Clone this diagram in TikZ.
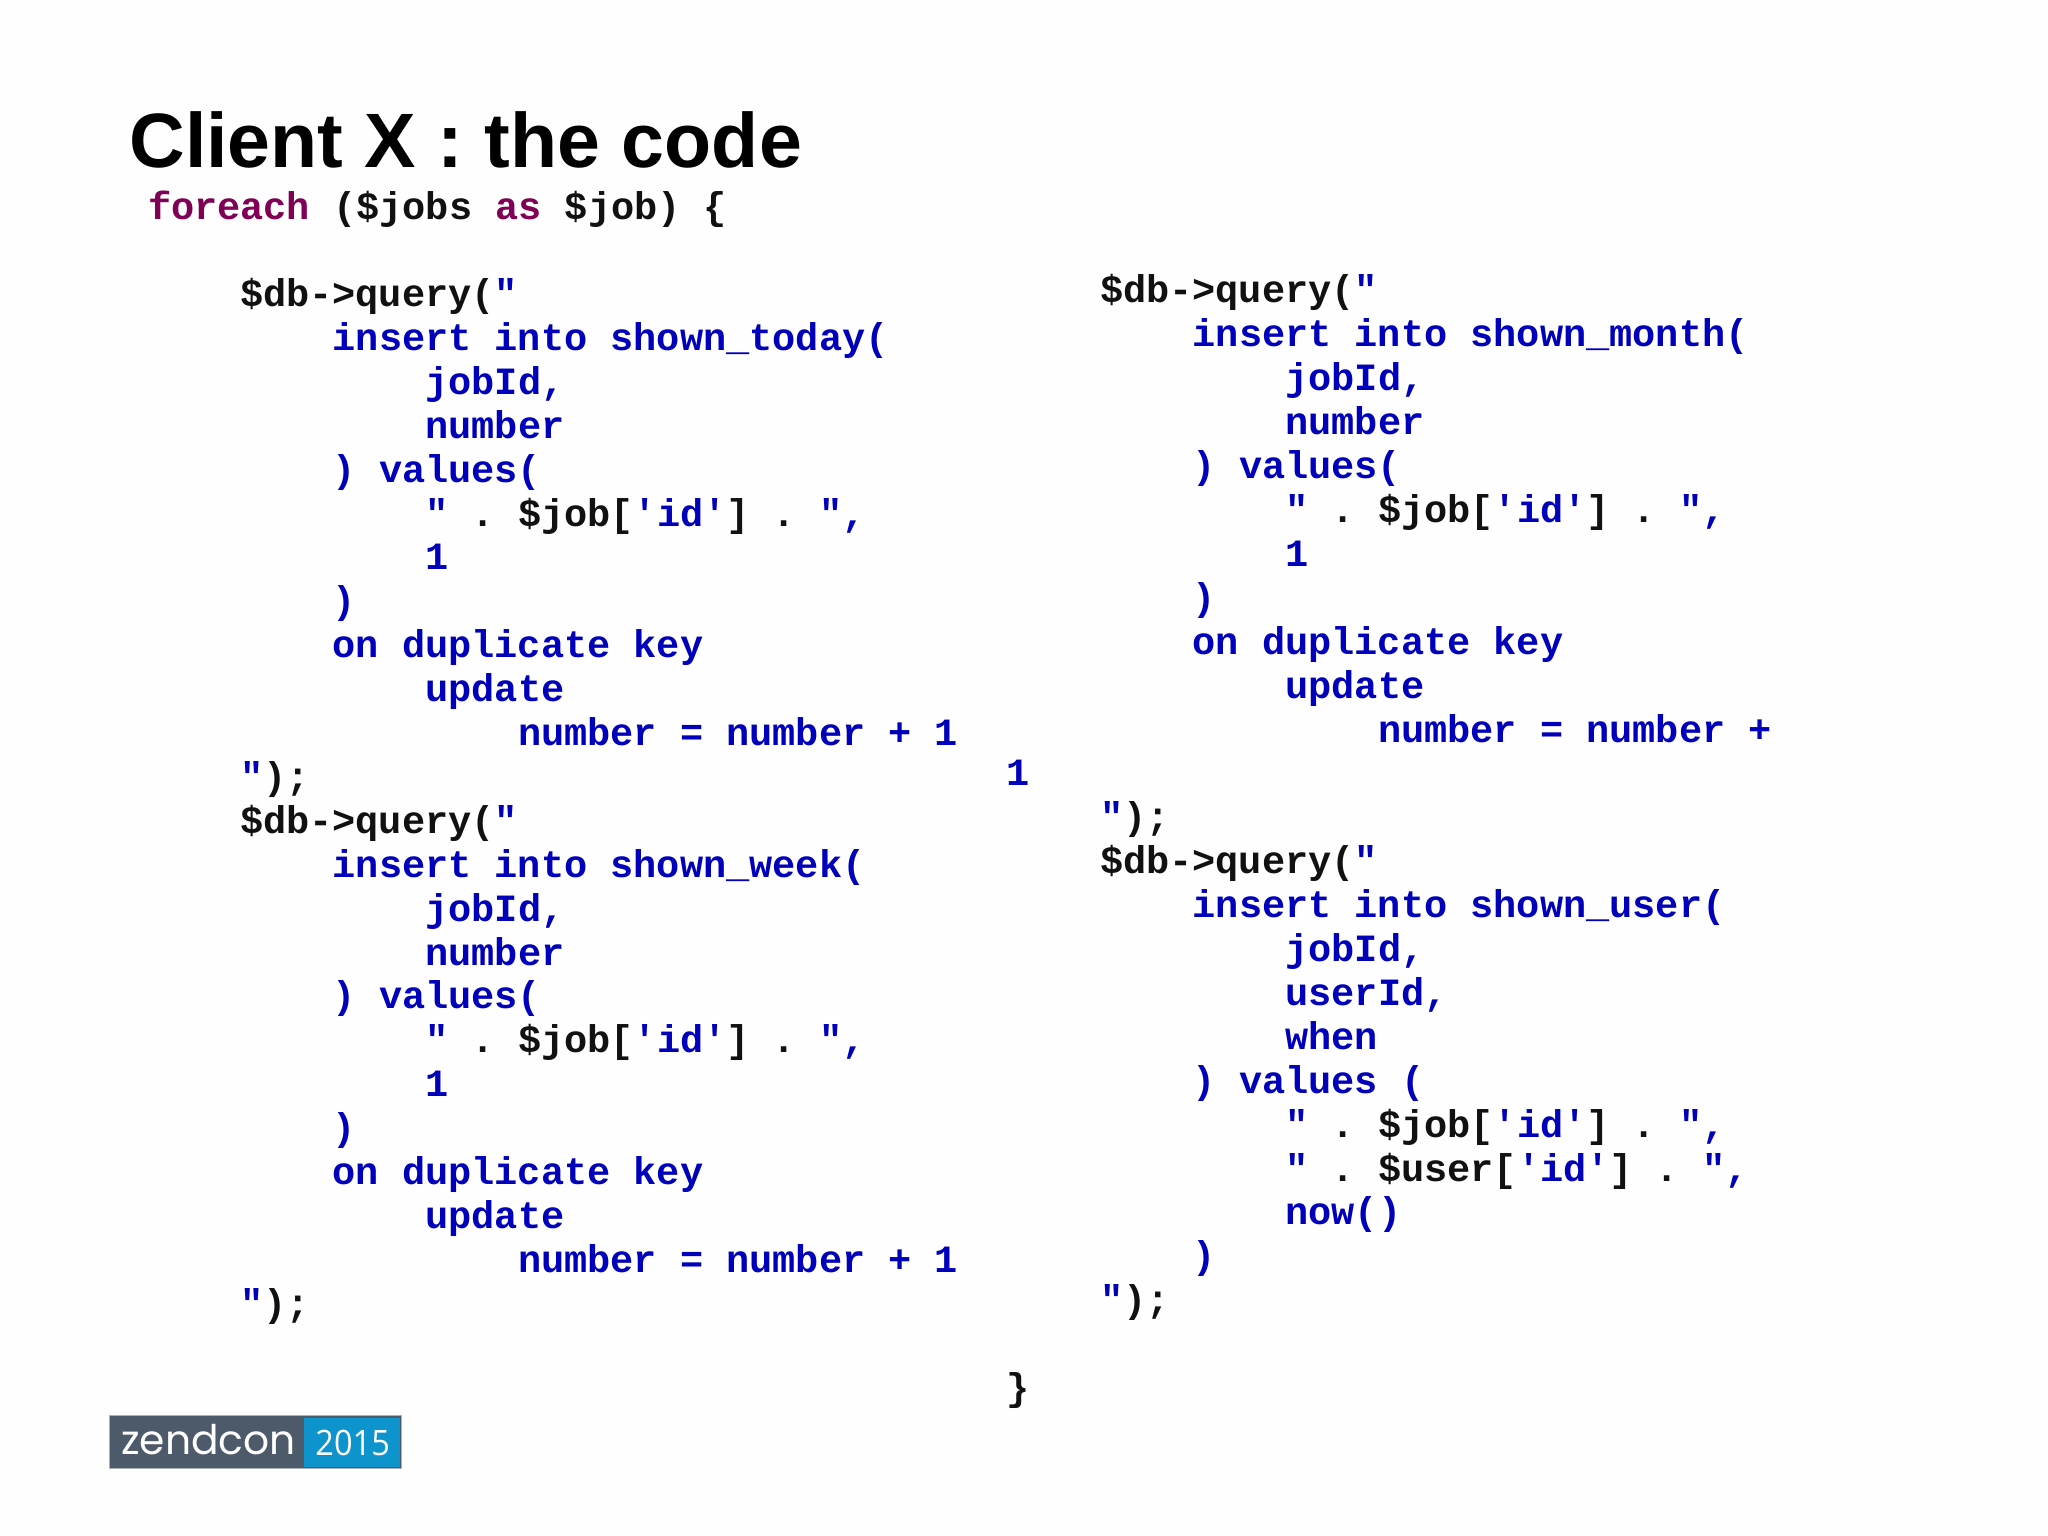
\documentclass[tikz,border=0pt]{standalone}
\usepackage{fontspec}
\setmainfont{Liberation Sans}
\newfontfamily\codefont{Liberation Mono}[BoldFont={Liberation Mono Bold}]
\newfontfamily\logofont{Poppins}
\newfontfamily\yearfont{Open Sans}
\definecolor{kwblue}{HTML}{0000BB}
\definecolor{kwpurple}{HTML}{7F0055}
\definecolor{codeblack}{HTML}{111111}
\definecolor{logodark}{HTML}{4D5A69}
\definecolor{logoblue}{HTML}{0D94CC}
\definecolor{logoedge}{HTML}{A9B0B8}
\definecolor{pagebg}{HTML}{FEFEFE}
\newcommand{\bl}[1]{\textcolor{kwblue}{#1}}
\newcommand{\pu}[1]{\textcolor{kwpurple}{#1}}
\frenchspacing
\tikzset{
  codeline/.style={anchor=base west,inner sep=0pt,outer sep=0pt,text=codeblack,font=\codefont\bfseries\fontsize{19.3}{19.3}\selectfont\frenchspacing},
  titletext/.style={anchor=base west,inner sep=0pt,font=\bfseries\fontsize{38.55}{38.55}\selectfont,text=black},
}
\begin{document}
\begin{tikzpicture}[x=0.5pt,y=-0.5pt]
\useasboundingbox (0,0) rectangle (2048,1535);
\fill[pagebg] (0,0) rectangle (2048,1535);
\node[titletext] (title) at (129,167.5) {Client X : the code};
\node[codeline] (fe) at (148,219.5) {\pu{foreach} (\$jobs \pu{as} \$job) \{};
\def\Lx{240}\def\Ly{306.5}\def\Rx{1100}\def\Ry{303}
\def\cw{23.17}
\newcommand{\codeat}[5]{\node[codeline] (#1) at ({#2+#3*\cw},{#4}) {#5};}
\newcommand{\lcol}[4]{\codeat{#1}{\Lx}{#2}{\Ly+43.9*#3}{#4}}
\newcommand{\rcol}[4]{\codeat{#1}{\Rx}{#2}{\Ry+43.9*#3}{#4}}
\lcol{la}{0}{0}{\$db->query(\bl{"}}
\lcol{lb}{4}{1}{\bl{insert into shown\_today(}}
\lcol{lc}{8}{2}{\bl{jobId,}}
\lcol{ld}{8}{3}{\bl{number}}
\lcol{le}{4}{4}{\bl{) values(}}
\lcol{lf}{8}{5}{\bl{"} . \$job[\bl{'id'}] . \bl{",}}
\lcol{lg}{8}{6}{\bl{1}}
\lcol{lh}{4}{7}{\bl{)}}
\lcol{li}{4}{8}{\bl{on duplicate key}}
\lcol{lj}{8}{9}{\bl{update}}
\lcol{lk}{12}{10}{\bl{number = number + 1}}
\lcol{ll}{0}{11}{\bl{"});}
\lcol{lm}{0}{12}{\$db->query(\bl{"}}
\lcol{ln}{4}{13}{\bl{insert into shown\_week(}}
\lcol{lo}{8}{14}{\bl{jobId,}}
\lcol{lp}{8}{15}{\bl{number}}
\lcol{lq}{4}{16}{\bl{) values(}}
\lcol{lr}{8}{17}{\bl{"} . \$job[\bl{'id'}] . \bl{",}}
\lcol{ls}{8}{18}{\bl{1}}
\lcol{lt}{4}{19}{\bl{)}}
\lcol{lu}{4}{20}{\bl{on duplicate key}}
\lcol{lv}{8}{21}{\bl{update}}
\lcol{lw}{12}{22}{\bl{number = number + 1}}
\lcol{lx}{0}{23}{\bl{"});}
\rcol{ra}{0}{0}{\$db->query(\bl{"}}
\rcol{rb}{4}{1}{\bl{insert into shown\_month(}}
\rcol{rc}{8}{2}{\bl{jobId,}}
\rcol{rd}{8}{3}{\bl{number}}
\rcol{re}{4}{4}{\bl{) values(}}
\rcol{rf}{8}{5}{\bl{"} . \$job[\bl{'id'}] . \bl{",}}
\rcol{rg}{8}{6}{\bl{1}}
\rcol{rh}{4}{7}{\bl{)}}
\rcol{ri}{4}{8}{\bl{on duplicate key}}
\rcol{rj}{8}{9}{\bl{update}}
\rcol{rk}{12}{10}{\bl{number = number +}}
\node[codeline] (rone) at (1006,{\Ry+43.9*11}) {\bl{1}};
\rcol{rl}{0}{12}{\bl{"});}
\rcol{rm}{0}{13}{\$db->query(\bl{"}}
\rcol{rn}{4}{14}{\bl{insert into shown\_user(}}
\rcol{ro}{8}{15}{\bl{jobId,}}
\rcol{rp}{8}{16}{\bl{userId,}}
\rcol{rq}{8}{17}{\bl{when}}
\rcol{rr}{4}{18}{\bl{) values (}}
\rcol{rs}{8}{19}{\bl{"} . \$job[\bl{'id'}] . \bl{",}}
\rcol{rt}{8}{20}{\bl{"} . \$user[\bl{'id'}] . \bl{",}}
\rcol{ru}{8}{21}{\bl{now()}}
\rcol{rv}{4}{22}{\bl{)}}
\rcol{rw}{0}{23}{\bl{"});}
\node[codeline] (close) at (1006,1400) {\}};
\fill[logoedge] (109,1415) rectangle (402,1469);
\fill[logodark] (110,1416) rectangle (401,1468);
\fill[logoblue] (304,1418) rectangle (400,1467);
\node[anchor=base west,inner sep=0pt,text=white,font=\logofont\fontsize{20.4}{20.4}\selectfont] (zc) at (121,1454) {zendcon};
\node[anchor=base west,inner sep=0pt,text=white,font=\yearfont\fontsize{17.5}{17.5}\selectfont] (yr) at (315,1455) {\scalebox{0.93}[1]{2015}};
\end{tikzpicture}
\end{document}
